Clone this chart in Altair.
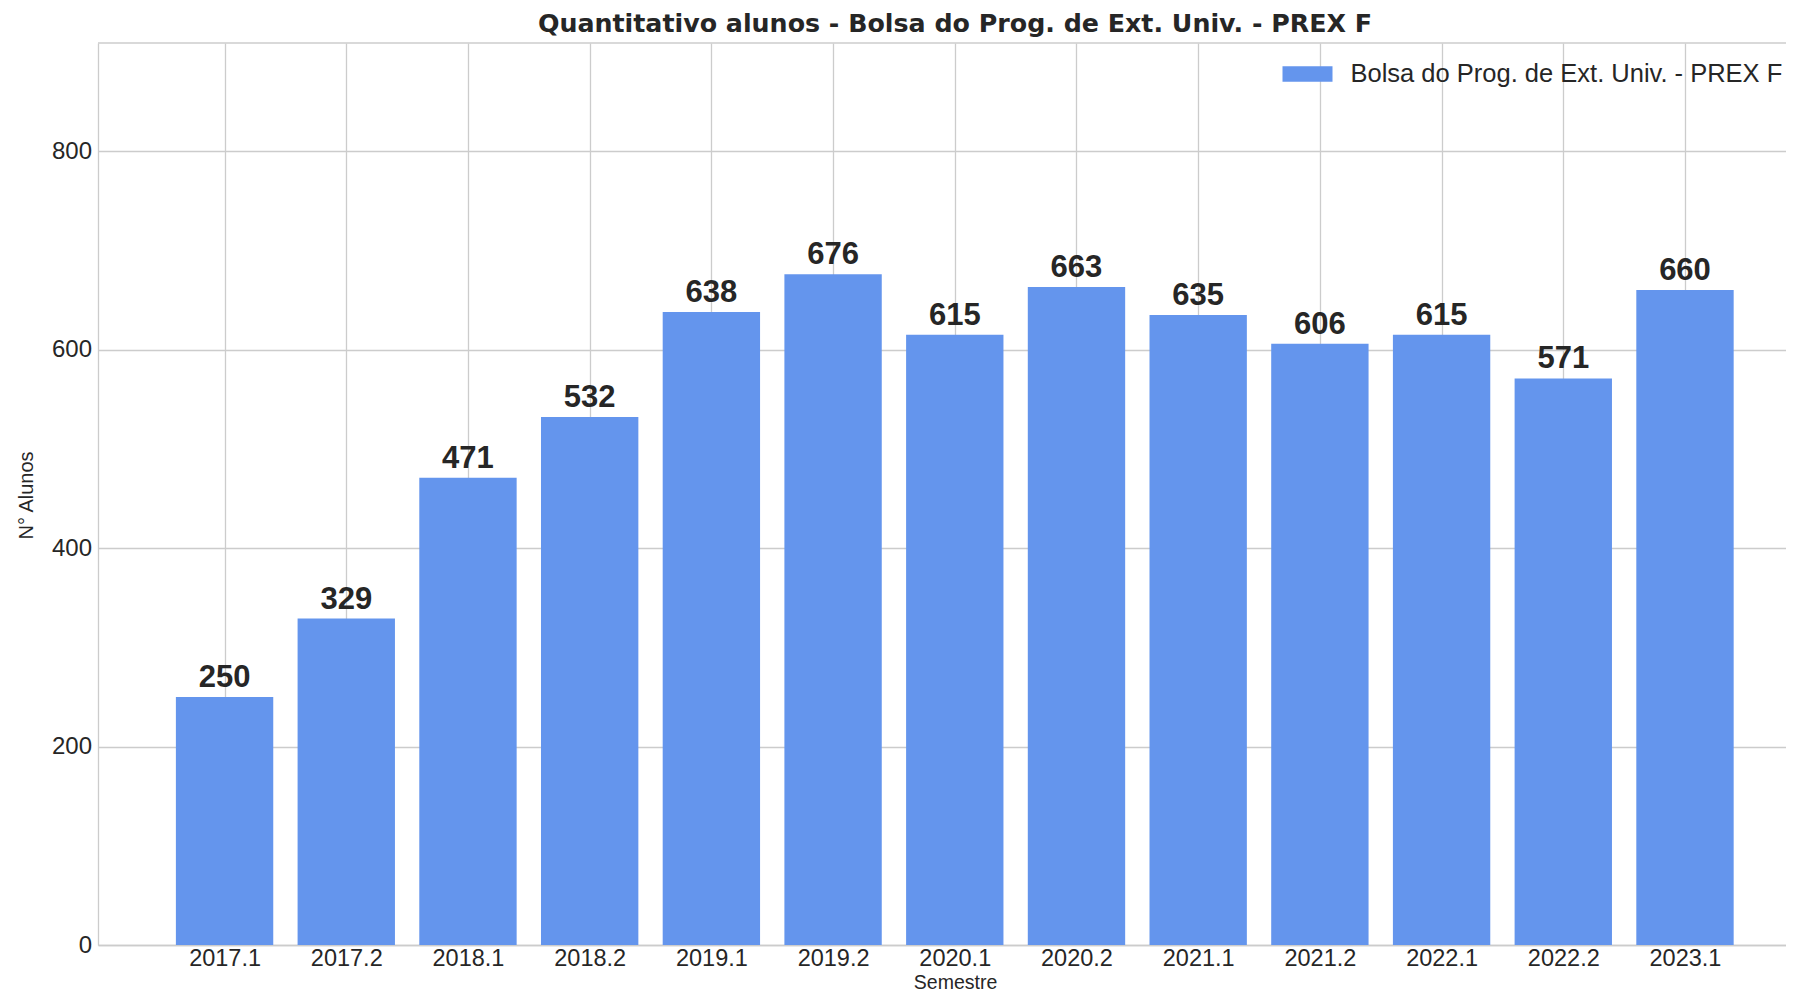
import altair as alt
import pandas as pd

semestres = ["2017.1", "2017.2", "2018.1", "2018.2", "2019.1", "2019.2", "2020.1",
             "2020.2", "2021.1", "2021.2", "2022.1", "2022.2", "2023.1"]
alunos = [250, 329, 471, 532, 638, 676, 615, 663, 635, 606, 615, 571, 660]
serie = "Bolsa do Prog. de Ext. Univ. - PREX F"
y_ticks = [0, 200, 400, 600, 800]

df = pd.DataFrame({
    "idx": list(range(len(semestres))),
    "semestre": semestres,
    "alunos": alunos,
    "serie": [serie] * len(semestres),
})

label_expr = "[" + ",".join("'" + s + "'" for s in semestres) + "][datum.value]"

TXT = "#262626"
GRID = "#cccccc"
FONT = "Liberation Sans"

xscale = alt.Scale(domain=[-1.04, 12.83], nice=False, zero=False)
yscale = alt.Scale(domain=[0, 909], nice=False, zero=True)

base = alt.Chart(df).transform_calculate(
    x0="datum.idx - 0.4", x1="datum.idx + 0.4"
)

bars = base.mark_bar(color="#6495ED").encode(
    x=alt.X("x0:Q", scale=xscale, axis=alt.Axis(
        values=list(range(len(semestres))), labelExpr=label_expr,
        grid=True, gridColor=GRID, domainColor=GRID, tickSize=0, ticks=False,
        labelPadding=1.5, labelFontSize=23.5, labelFont=FONT, labelColor=TXT,
        labelFlush=False, labelOverlap=False,
        title="Semestre", titleX=857, titleY=43, titleBaseline="alphabetic",
        titleFontSize=19.5, titleFontWeight="normal", titleFont=FONT, titleColor=TXT,
    )),
    x2="x1:Q",
    y=alt.Y("alunos:Q", scale=yscale, axis=alt.Axis(
        values=y_ticks, grid=True, gridColor=GRID, domainColor=GRID,
        tickSize=0, ticks=False, labelPadding=6.5, labelFontSize=24,
        labelFont=FONT, labelColor=TXT,
        title="N° Alunos", titleX=-65.5, titleY=452, titleBaseline="alphabetic",
        titleAngle=270, titleFontSize=20, titleFontWeight="normal",
        titleFont=FONT, titleColor=TXT,
    )),
    y2=alt.datum(0),
    color=alt.Color("serie:N", scale=alt.Scale(range=["#6495ED"]), legend=alt.Legend(
        title=None, orient="none", legendX=1184.5, legendY=6,
        symbolType="M-1,-0.3125H1V0.3125H-1Z", symbolSize=2500,
        symbolStrokeWidth=0, symbolOpacity=1,
        labelFontSize=25.5, labelFont=FONT, labelColor=TXT,
        labelOffset=18, padding=0, labelLimit=0,
    )),
)

labels = base.mark_text(
    dy=-10, baseline="alphabetic", fontWeight="bold", fontSize=31,
    font=FONT, color=TXT,
).encode(
    x=alt.X("idx:Q", scale=xscale),
    y=alt.Y("alunos:Q", scale=yscale),
    text="alunos:Q",
)

top_line = alt.Chart(pd.DataFrame({"a": [0]})).mark_rule(
    color=GRID, strokeWidth=1.3
).encode(y=alt.value(0))

chart = alt.layer(bars, labels, top_line).properties(
    width=1688, height=902,
    autosize=alt.AutoSizeParams(type="none"),
    padding={"left": 90, "top": 35, "right": 0, "bottom": 47},
    title=alt.TitleParams(
        text="Quantitativo alunos - Bolsa do Prog. de Ext. Univ. - PREX F",
        font="DejaVu Sans", fontSize=25.3, fontWeight="bold", color=TXT,
        anchor="middle", frame="group", dx=13, dy=29, offset=14.5, baseline="alphabetic",
    ),
).configure_view(stroke=None).configure_axis(gridWidth=1.3, domainWidth=1.3)

chart.save("out.html", embed_options={"renderer": "svg", "actions": False})
